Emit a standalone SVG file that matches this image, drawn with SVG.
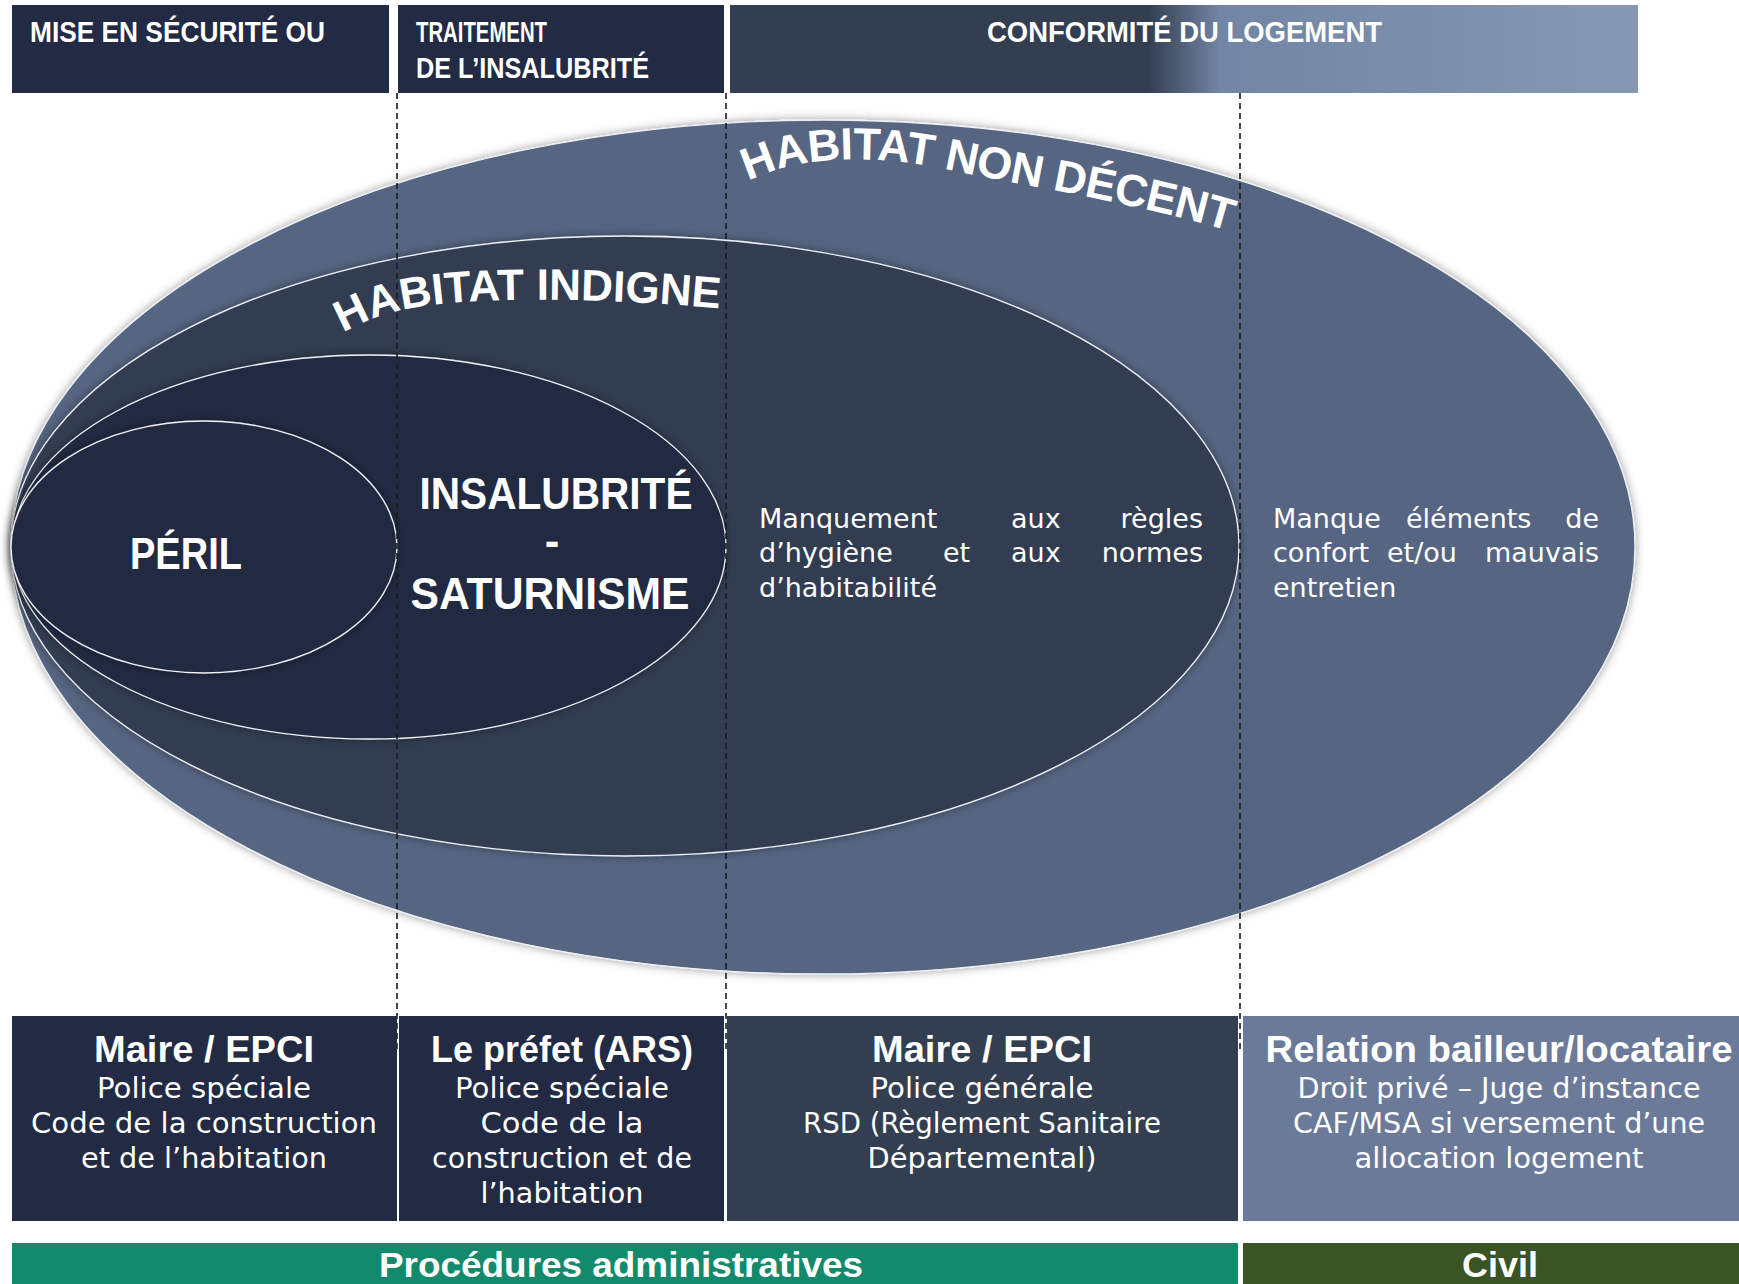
<svg xmlns="http://www.w3.org/2000/svg" width="1739" height="1284" viewBox="0 0 1739 1284">
<defs>
<style>
.hdr{font-family:"Liberation Sans",Arial,sans-serif;font-weight:bold;font-size:29px;fill:#fff}
.arc{font-family:"Liberation Sans",Arial,sans-serif;font-weight:bold;fill:#fff}
.big{font-family:"Liberation Sans",Arial,sans-serif;font-weight:bold;font-size:44px;fill:#fff;text-anchor:middle}
.body{font-family:"DejaVu Sans","Liberation Sans",sans-serif;font-size:27px;fill:#fff}
.end{text-anchor:end}
.bt{font-family:"Liberation Sans",Arial,sans-serif;font-weight:bold;font-size:37px;fill:#fff;text-anchor:middle}
.bl{font-family:"DejaVu Sans","Liberation Sans",sans-serif;font-size:28px;fill:#fff;text-anchor:middle}
.bar{font-family:"Liberation Sans",Arial,sans-serif;font-weight:bold;font-size:35px;fill:#fff;text-anchor:middle}
.ell{stroke:#eef1f6;stroke-width:1.3}
.dash{stroke:#1b1b1b;stroke-width:1.6;stroke-dasharray:6 4;fill:none}
</style>
<linearGradient id="g3" x1="0" y1="0" x2="1" y2="0">
<stop offset="0" stop-color="#333e51"/>
<stop offset="0.46" stop-color="#333e51"/>
<stop offset="0.54" stop-color="#7285a4"/>
<stop offset="1" stop-color="#8598b3"/>
</linearGradient>
<filter id="sh" x="-10%" y="-15%" width="120%" height="130%">
<feDropShadow dx="0" dy="0" stdDeviation="5" flood-color="#000" flood-opacity="0.4"/>
</filter>
<path id="pNon" d="M 748 181 C 800 156, 870 153, 950 170 S 1150 205, 1245 236 L 1330 265"/>
<path id="pInd" d="M 343 333 C 390 306, 440 301, 520 300 S 660 303, 726 309 L 800 318"/>
</defs>

<rect width="1739" height="1284" fill="#fff"/>

<g id="header-securite"><rect x="12" y="5" width="377" height="88" fill="#232a43"/>
<text class="hdr" x="30" y="42" textLength="295" lengthAdjust="spacingAndGlyphs">MISE EN SÉCURITÉ OU</text></g>
<g id="header-insalubrite"><rect x="398" y="5" width="326" height="88" fill="#232a43"/>
<text class="hdr" x="416" y="42" textLength="131" lengthAdjust="spacingAndGlyphs">TRAITEMENT</text>
<text class="hdr" x="416" y="78" textLength="233" lengthAdjust="spacingAndGlyphs">DE L’INSALUBRITÉ</text></g>
<g id="header-conformite"><rect x="730" y="5" width="908" height="88" fill="url(#g3)"/>
<text class="hdr" x="987" y="42" textLength="395" lengthAdjust="spacingAndGlyphs">CONFORMITÉ DU LOGEMENT</text></g>

<g id="habitat-non-decent"><ellipse class="ell" cx="823" cy="547" rx="812" ry="427" fill="#566581" filter="url(#sh)"/></g>
<g id="habitat-indigne"><ellipse class="ell" cx="625" cy="546" rx="614" ry="310" fill="#333e51" filter="url(#sh)"/></g>
<g id="insalubrite"><ellipse class="ell" cx="369" cy="547" rx="357" ry="192" fill="#232a43" filter="url(#sh)"/></g>
<g id="peril"><ellipse class="ell" cx="204" cy="547" rx="193" ry="126" fill="#232a43" filter="url(#sh)"/></g>

<g id="connectors">
<line class="dash" x1="397" y1="93" x2="397" y2="1052"/>
<line class="dash" x1="726" y1="93" x2="726" y2="1052"/>
<line class="dash" x1="1240" y1="93" x2="1240" y2="1052"/>
</g>

<g id="labels">
<text class="arc" font-size="45" letter-spacing="-0.5"><textPath href="#pNon">HABITAT NON DÉCENT</textPath></text>
<text class="arc" font-size="44"><textPath href="#pInd">HABITAT INDIGNE</textPath></text>
<text class="big" x="186" y="569" textLength="112" lengthAdjust="spacingAndGlyphs">PÉRIL</text>
<text class="big" x="556" y="509" textLength="273" lengthAdjust="spacingAndGlyphs">INSALUBRITÉ</text>
<text class="big" x="552" y="556">-</text>
<text class="big" x="550" y="609" textLength="279" lengthAdjust="spacingAndGlyphs">SATURNISME</text>
<text class="body" y="528"><tspan x="759">Manquement</tspan><tspan x="1011">aux</tspan></text>
<text class="body end" x="1203" y="528">règles</text>
<text class="body" y="562"><tspan x="759">d’hygiène</tspan><tspan x="943">et</tspan><tspan x="1011">aux</tspan></text>
<text class="body end" x="1203" y="562">normes</text>
<text class="body" x="759" y="597">d’habitabilité</text>
<text class="body" y="528"><tspan x="1273">Manque</tspan><tspan x="1406">éléments</tspan></text>
<text class="body end" x="1599" y="528">de</text>
<text class="body" y="562"><tspan x="1273">confort</tspan><tspan x="1387">et/ou</tspan></text>
<text class="body end" x="1599" y="562">mauvais</text>
<text class="body" x="1273" y="597">entretien</text>
</g>

<g id="box-maire-1"><rect x="12" y="1016" width="385" height="205" fill="#232a43"/>
<text class="bt" x="204" y="1062" textLength="220" lengthAdjust="spacingAndGlyphs">Maire / EPCI</text>
<text class="bl" x="204" y="1098" textLength="214" lengthAdjust="spacingAndGlyphs">Police spéciale</text>
<text class="bl" x="204" y="1133" textLength="346" lengthAdjust="spacingAndGlyphs">Code de la construction</text>
<text class="bl" x="204" y="1168" textLength="246" lengthAdjust="spacingAndGlyphs">et de l’habitation</text></g>
<g id="box-prefet"><rect x="399" y="1016" width="325" height="205" fill="#232a43"/>
<text class="bt" x="562" y="1062" textLength="262" lengthAdjust="spacingAndGlyphs">Le préfet (ARS)</text>
<text class="bl" x="562" y="1098" textLength="214" lengthAdjust="spacingAndGlyphs">Police spéciale</text>
<text class="bl" x="562" y="1133" textLength="163" lengthAdjust="spacingAndGlyphs">Code de la</text>
<text class="bl" x="562" y="1168" textLength="260" lengthAdjust="spacingAndGlyphs">construction et de</text>
<text class="bl" x="562" y="1203" textLength="163" lengthAdjust="spacingAndGlyphs">l’habitation</text></g>
<g id="box-maire-2"><rect x="727" y="1016" width="511" height="205" fill="#333e51"/>
<text class="bt" x="982" y="1062" textLength="220" lengthAdjust="spacingAndGlyphs">Maire / EPCI</text>
<text class="bl" x="982" y="1098" textLength="223" lengthAdjust="spacingAndGlyphs">Police générale</text>
<text class="bl" x="982" y="1133" textLength="358" lengthAdjust="spacingAndGlyphs">RSD (Règlement Sanitaire</text>
<text class="bl" x="982" y="1168" textLength="229" lengthAdjust="spacingAndGlyphs">Départemental)</text></g>
<g id="box-relation"><rect x="1243" y="1016" width="496" height="205" fill="#6b7a99"/>
<text class="bt" x="1499" y="1062" textLength="467" lengthAdjust="spacingAndGlyphs">Relation bailleur/locataire</text>
<text class="bl" x="1499" y="1098" textLength="403" lengthAdjust="spacingAndGlyphs">Droit privé – Juge d’instance</text>
<text class="bl" x="1499" y="1133" textLength="412" lengthAdjust="spacingAndGlyphs">CAF/MSA si versement d’une</text>
<text class="bl" x="1499" y="1168" textLength="289" lengthAdjust="spacingAndGlyphs">allocation logement</text></g>

<g id="bar-admin"><rect x="12" y="1243" width="1226" height="41" fill="#138a6b"/>
<text class="bar" x="621" y="1277" textLength="484" lengthAdjust="spacingAndGlyphs">Procédures administratives</text></g>
<g id="bar-civil"><rect x="1243" y="1243" width="496" height="41" fill="#3a5424"/>
<text class="bar" x="1500" y="1277" textLength="76" lengthAdjust="spacingAndGlyphs">Civil</text></g>
</svg>
